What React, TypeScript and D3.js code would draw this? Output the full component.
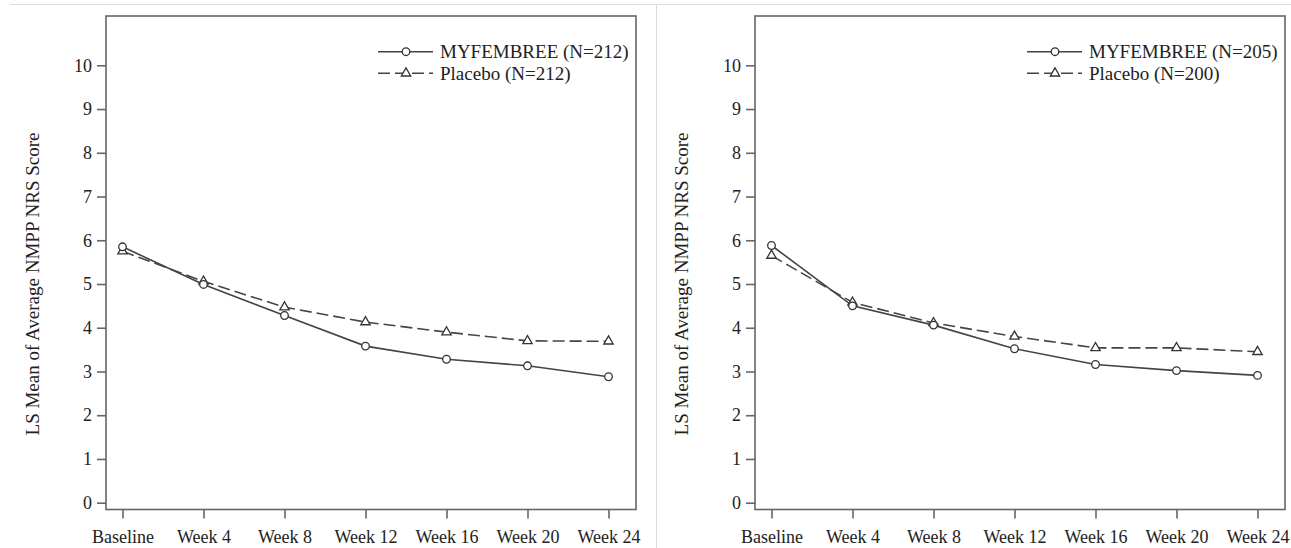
import React, { useRef, useEffect } from 'react';
import * as d3 from 'd3';

// visits on the x axis
const visits = ['Baseline', 'Week 4', 'Week 8', 'Week 12', 'Week 16', 'Week 20', 'Week 24'];
const yTicks = [0, 1, 2, 3, 4, 5, 6, 7, 8, 9, 10];

// study 1 (left panel)
const study1Active = [5.85, 4.99, 4.28, 3.58, 3.28, 3.13, 2.88];
const study1Placebo = [5.75, 5.06, 4.47, 4.13, 3.9, 3.7, 3.69];
const study1Labels = ['MYFEMBREE (N=212)', 'Placebo (N=212)'];

// study 2 (right panel)
const study2Active = [5.88, 4.5, 4.06, 3.52, 3.16, 3.02, 2.91];
const study2Placebo = [5.65, 4.58, 4.11, 3.8, 3.54, 3.54, 3.45];
const study2Labels = ['MYFEMBREE (N=205)', 'Placebo (N=200)'];

const yTitle = 'LS Mean of Average NMPP NRS Score';

const App = () => {
  const svgRef = useRef(null);

  useEffect(() => {
    const width = 1291;
    const height = 548;
    const svg = d3.select(svgRef.current);
    svg.selectAll('*').remove();
    svg.attr('width', width).attr('height', height);

    const font = "'Liberation Serif', 'Times New Roman', Times, serif";
    const ink = '#222';

    // page dividers
    svg.append('line')
      .attr('x1', 10).attr('x2', width).attr('y1', 4.5).attr('y2', 4.5)
      .attr('stroke', '#ddd').attr('stroke-width', 1);
    svg.append('line')
      .attr('x1', 656.5).attr('x2', 656.5).attr('y1', 4.5).attr('y2', height)
      .attr('stroke', '#ddd').attr('stroke-width', 1);

    const panels = [
      { left: 106, active: study1Active, placebo: study1Placebo, labels: study1Labels },
      { left: 755, active: study2Active, placebo: study2Placebo, labels: study2Labels },
    ];

    const frameW = 530;
    const frameTop = 16;
    const frameBottom = 509.5;

    panels.forEach(p => {
      const g = svg.append('g').attr('transform', `translate(${p.left},0)`);

      const x = d3.scalePoint()
        .domain(visits)
        .range([16.5, frameW - 27.5]);

      const y = d3.scaleLinear()
        .domain([0, 10])
        .range([502.7, 65.3]);

      // frame
      g.append('rect')
        .attr('x', 0).attr('y', frameTop)
        .attr('width', frameW).attr('height', frameBottom - frameTop)
        .attr('fill', 'none').attr('stroke', '#666').attr('stroke-width', 1.6);

      // y axis
      const yAxis = g.append('g')
        .call(d3.axisLeft(y).tickValues(yTicks).tickSize(9).tickPadding(5).tickFormat(d3.format('d')));
      yAxis.select('.domain').remove();
      yAxis.selectAll('line').attr('stroke', '#666').attr('stroke-width', 1.6);
      yAxis.selectAll('text')
        .style('font-family', font).style('font-size', '18px').attr('fill', ink);

      // x axis
      const xAxis = g.append('g')
        .attr('transform', `translate(0,${frameBottom})`)
        .call(d3.axisBottom(x).tickSize(9).tickPadding(12));
      xAxis.select('.domain').remove();
      xAxis.selectAll('line').attr('stroke', '#666').attr('stroke-width', 1.6);
      xAxis.selectAll('text')
        .style('font-family', font).style('font-size', '18px').attr('fill', ink);

      // y title
      g.append('text')
        .attr('transform', `translate(${-67},${(y(0) + y(10)) / 2}) rotate(-90)`)
        .attr('text-anchor', 'middle')
        .style('font-family', font).style('font-size', '19px').attr('fill', ink)
        .text(yTitle);

      const line = d3.line()
        .x((d, i) => x(visits[i]))
        .y(d => y(d));

      // placebo series
      g.append('path')
        .datum(p.placebo)
        .attr('d', line)
        .attr('fill', 'none').attr('stroke', '#444').attr('stroke-width', 1.6)
        .attr('stroke-dasharray', '12,5');

      // active series
      g.append('path')
        .datum(p.active)
        .attr('d', line)
        .attr('fill', 'none').attr('stroke', '#444').attr('stroke-width', 1.6);

      const tri = d3.symbol().type(d3.symbolTriangle).size(38);

      g.selectAll('.tri')
        .data(p.placebo)
        .enter().append('path')
        .attr('class', 'tri')
        .attr('d', tri)
        .attr('transform', (d, i) => `translate(${x(visits[i])},${y(d)})`)
        .attr('fill', '#fff').attr('stroke', '#333').attr('stroke-width', 1.3);

      g.selectAll('.circ')
        .data(p.active)
        .enter().append('circle')
        .attr('class', 'circ')
        .attr('cx', (d, i) => x(visits[i]))
        .attr('cy', d => y(d))
        .attr('r', 3.8)
        .attr('fill', '#fff').attr('stroke', '#333').attr('stroke-width', 1.3);

      // legend
      const legend = g.append('g').attr('transform', 'translate(272,0)');
      const rows = [
        { label: p.labels[0], dash: null, marker: 'circle', y: 51.7 },
        { label: p.labels[1], dash: '12,5', marker: 'triangle', y: 73.3 },
      ];
      rows.forEach(r => {
        legend.append('line')
          .attr('x1', 0).attr('x2', 55).attr('y1', r.y).attr('y2', r.y)
          .attr('stroke', '#444').attr('stroke-width', 1.6)
          .attr('stroke-dasharray', r.dash);
        if (r.marker === 'circle') {
          legend.append('circle')
            .attr('cx', 28).attr('cy', r.y).attr('r', 3.8)
            .attr('fill', '#fff').attr('stroke', '#333').attr('stroke-width', 1.3);
        } else {
          legend.append('path')
            .attr('d', tri)
            .attr('transform', `translate(28,${r.y})`)
            .attr('fill', '#fff').attr('stroke', '#333').attr('stroke-width', 1.3);
        }
        legend.append('text')
          .attr('x', 62).attr('y', r.y)
          .attr('dy', '0.35em')
          .style('font-family', font).style('font-size', '19px').attr('fill', ink)
          .text(r.label);
      });
    });
  }, []);

  return (
    <svg ref={svgRef} style={{ position: 'absolute', left: 0, top: 0, background: '#fff' }}></svg>
  );
};

export default App;
